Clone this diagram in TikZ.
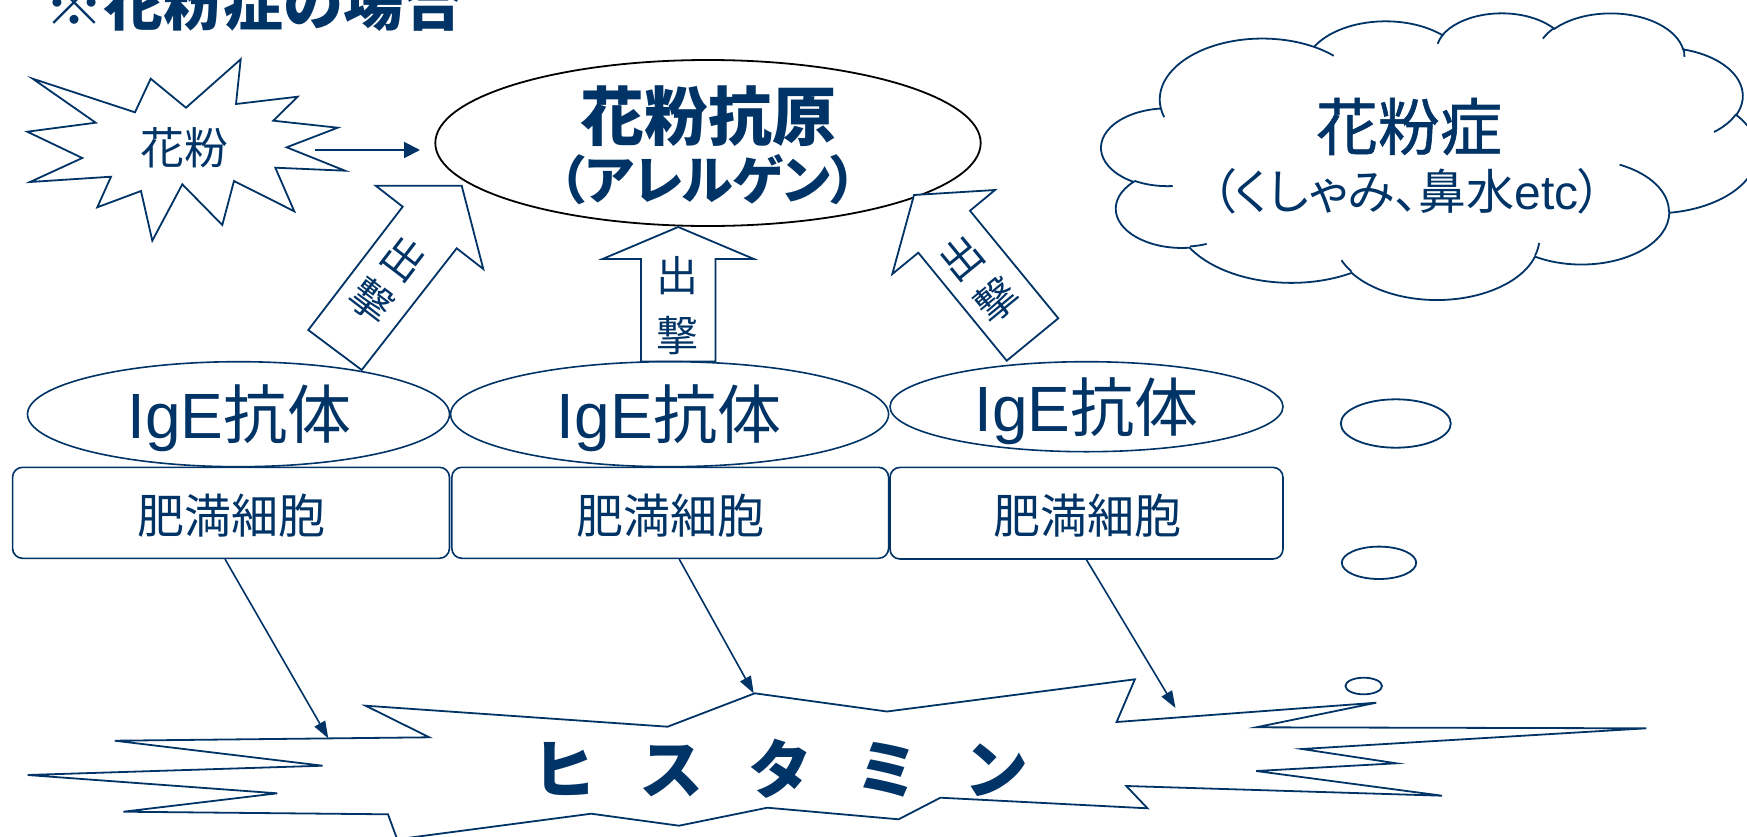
\documentclass[tikz,border=0pt]{standalone}
\usepackage{fontspec}
\setmainfont{Liberation Sans}
\newfontfamily\cjk{Noto Sans CJK JP}
\newfontfamily\cjkp[RawFeature=+palt]{Noto Sans CJK JP}
\newfontfamily\cjkm[FakeBold=1]{Noto Sans CJK JP}
\usetikzlibrary{shapes.geometric,arrows.meta}
\definecolor{navy}{RGB}{0,51,102}
\newcommand\myfs[1]{\fontsize{#1}{#1}\selectfont}
\begin{document}
\begin{tikzpicture}[x=0.5pt,y=-0.5pt,
  shp/.style={draw=navy, line width=0.9pt, fill=white, line join=miter},
  thin/.style={draw=navy, line width=0.8pt, fill=white},
  tail/.style={draw=navy, line width=0.9pt},
  txt/.style={text=navy, inner sep=0pt, outer sep=0pt},
  conn/.style={draw=navy, line width=0.8pt, -{Triangle[length=8.5pt,width=6pt]}},
  conntwo/.style={draw=navy, line width=1pt, -{Triangle[length=8pt,width=8pt]}}]
\clip (0,0) rectangle (1747,836);
\fill[white] (0,0) rectangle (1747,836);

% title
\node[txt, font=\cjk\bfseries\myfs{30pt}] (title) at (254,3) {※花粉症の場合};

% pollen star
\draw[shp] (32.7,78.7) -- (135,112.3) -- (150.7,78.7) -- (186,107.7) -- (240.7,59.3) -- (236,104)
  -- (297.7,96.7) -- (273.3,120.7) -- (337.7,127.7) -- (286.7,147.3) -- (345,170.7) -- (275.3,167.7)
  -- (294.3,211.3) -- (234,181) -- (222.3,225) -- (182.3,184.3) -- (152.3,240.7) -- (141,191)
  -- (97.3,207.3) -- (111,176.7) -- (30,182) -- (82.3,158) -- (27.3,131.7) -- (95.7,122.7) -- cycle;
\node[txt, font=\cjk\myfs{22pt}] (pollen) at (184.7,147.5) {花粉};
\coordinate (pa) at (315,150);
\coordinate (pb) at (420,150);
\draw[conntwo] (pa) -- (pb);

% antigen
\node[ellipse, draw=black, line width=0.9pt, fill=white, minimum width=272.7pt, minimum height=83pt, inner sep=0pt] (antigen) at (708,143) {};
\node[txt, font=\cjk\bfseries\myfs{32pt}] (ag1) at (708,116) {花粉抗原};
\node[txt, font=\cjkp\bfseries\myfs{26pt}] (ag2) at (708,179.5) {（アレルゲン）};

% block arrows
\draw[shp] (461.7,185.7) -- (483.3,269) -- (456.7,248.3) -- (361.7,370) -- (308.3,330) -- (402.7,206.7) -- (375.7,185.7) -- cycle;
\draw[shp] (678.2,227) -- (753.9,259) -- (715.5,259) -- (715.5,361.5) -- (640.9,361.5) -- (640.9,259) -- (602.5,259) -- cycle;
\draw[shp] (914,195) -- (995,190) -- (970,210.7) -- (1058.3,318.3) -- (1006.7,360.7) -- (918.3,252.7) -- (892.3,274) -- cycle;
\node[txt, rotate=-37.4, align=center, font=\cjk\fontsize{21pt}{26.4pt}\selectfont] (sh1) at (387.8,279.2) {出\\撃};
\node[txt, align=center, font=\cjk\fontsize{21pt}{30pt}\selectfont] (sh2) at (677.5,305.8) {出\\撃};
\node[txt, rotate=39.3, align=center, font=\cjk\fontsize{21pt}{27.2pt}\selectfont] (sh3) at (979.2,279.2) {出\\撃};

% IgE ellipses
\node[ellipse, thin, minimum width=211pt, minimum height=52.5pt, inner sep=0pt] (ige1) at (238.5,414.2) {};
\node[ellipse, thin, minimum width=219pt, minimum height=52.5pt, inner sep=0pt] (ige2) at (669.6,414.2) {};
\node[ellipse, thin, minimum width=196.5pt, minimum height=45pt, inner sep=0pt] (ige3) at (1086.5,406.7) {};
\node[txt, anchor=base, font=\myfs{32pt}] (i1t) at (239.5,438.3) {IgE{\cjk 抗体}};
\node[txt, anchor=base, font=\myfs{32pt}] (i2t) at (669,438.3) {IgE{\cjk 抗体}};
\node[txt, anchor=base, font=\myfs{32pt}] (i3t) at (1086.5,431.7) {IgE{\cjk 抗体}};

% mast cell boxes
\node[rectangle, thin, rounded corners=5pt, minimum width=218.45pt, minimum height=45.5pt, inner sep=0pt] (box1) at (231,512.8) {};
\node[rectangle, thin, rounded corners=5pt, minimum width=218.4pt, minimum height=45.5pt, inner sep=0pt] (box2) at (670.2,512.8) {};
\node[rectangle, thin, rounded corners=5pt, minimum width=196.5pt, minimum height=45.8pt, inner sep=0pt] (box3) at (1086.5,513.2) {};
\node[txt, font=\cjk\myfs{23.5pt}] (c1t) at (231,516) {肥満細胞};
\node[txt, font=\cjk\myfs{23.5pt}] (c2t) at (670,516) {肥満細胞};
\node[txt, font=\cjk\myfs{23.5pt}] (c3t) at (1087,516) {肥満細胞};

% cloud callout
\begin{scope}[shift={(1101.5,12.4)}, x=0.759pt, y=-0.3317pt]
\draw[shp] (39.00,143.70)
 arc[start angle=187.75, end angle=59.63, x radius=51.255pt, y radius=30.483pt]
 arc[start angle=152.03, end angle=45.45, x radius=40.477pt, y radius=24.105pt]
 arc[start angle=153.48, end angle=37.32, x radius=33.130pt, y radius=19.720pt]
 arc[start angle=139.71, end angle=10.21, x radius=36.865pt, y radius=21.876pt]
 arc[start angle=74.77, end angle=-23.21, x radius=40.477pt, y radius=24.125pt]
 arc[start angle=37.52, end angle=-81.86, x radius=51.422pt, y radius=30.583pt]
 arc[start angle=-0.46, end angle=-121.98, x radius=43.908pt, y radius=26.095pt]
 arc[start angle=-16.85, end angle=-146.24, x radius=51.248pt, y radius=30.566pt]
 arc[start angle=-58.99, end angle=-150.20, x radius=58.595pt, y radius=34.971pt]
 arc[start angle=276.69, end angle=136.88, x radius=33.092pt, y radius=19.630pt]
 arc[start angle=239.64, end angle=95.89, x radius=32.979pt, y radius=19.720pt]
 -- cycle;
\draw[tail] (46.93,261.77) arc[start angle=-85.55, end angle=-120.36, x radius=32.979pt, y radius=19.720pt]
 (69.28,348.99) arc[start angle=-68.24, end angle=-83.31, x radius=33.092pt, y radius=19.630pt]
 (164.78,390.90) arc[start angle=-146.24, end angle=-158.47, x radius=51.248pt, y radius=30.566pt]
 (288.27,347.51) arc[start angle=-4.74, end angle=-16.85, x radius=51.248pt, y radius=30.566pt]
 (341.29,229.54) arc[start angle=64.03, end angle=-0.46, x radius=43.908pt, y radius=26.095pt]
 (417.98,153.54) arc[start angle=-23.21, end angle=-49.64, x radius=40.477pt, y radius=24.125pt]
 (383.24,54.26) arc[start angle=10.21, end angle=-0.82, x radius=36.865pt, y radius=21.876pt]
 (290.78,39.52) arc[start angle=156.28, end angle=139.71, x radius=36.865pt, y radius=21.876pt]
 (221.41,47.20) arc[start angle=167.73, end angle=153.48, x radius=33.130pt, y radius=19.720pt]
 (140.00,51.92) arc[start angle=59.63, end angle=45.73, x radius=51.255pt, y radius=30.483pt]
 (41.27,157.89) arc[start angle=-163.19, end angle=-172.25, x radius=51.255pt, y radius=30.483pt];
\end{scope}
\node[txt, font=\cjkm\myfs{31pt}] (kfs) at (1409,126.5) {花粉症};
\node[txt, font=\myfs{24pt}] (sym) at (1407,191) {{\cjkp （くしゃみ、鼻水}etc{\cjkp ）}};
\node[ellipse, shp, minimum width=55pt, minimum height=24.2pt, inner sep=0pt] (bubA) at (1395.8,423.5) {};
\node[ellipse, shp, minimum width=37.2pt, minimum height=16.2pt, inner sep=0pt] (bubB) at (1379,562.8) {};
\node[ellipse, shp, minimum width=18.3pt, minimum height=8.3pt, inner sep=0pt] (bubC) at (1363.7,686) {};

% histamine burst
\draw[shp] (365.6,705.7) -- (667.6,726.7) -- (754.8,693.3) -- (887,711.5) -- (1134.9,679.3) -- (1116.6,722)
  -- (1376.3,702.7) -- (1256.2,727.3) -- (1646.3,728.3) -- (1302,749) -- (1396.3,763.3) -- (1256.2,771)
  -- (1442.1,795.7) -- (1126.3,786) -- (1147.5,808.3) -- (940.4,797.7) -- (898.6,819.3) -- (767.4,807.7)
  -- (679,825.7) -- (591.2,813.7) -- (397.2,839.3) -- (388,814.3) -- (123.4,811.7) -- (277.2,793.3)
  -- (27.6,775) -- (322.6,765.7) -- (114.8,740.7) -- (429.3,737.3) -- cycle;
\node[txt, font=\cjk\bfseries\myfs{32pt}] (hist) at (780,768.4) {\spaceskip=22pt\relax ヒ ス タ ミ ン};

% connectors
\coordinate (h1) at (328.3,738.3);
\coordinate (h2) at (753.7,693.3);
\coordinate (h3) at (1175.5,708);
\draw[conn] ([xshift=-3pt]box1.south) -- (h1);
\draw[conn] ([xshift=4.5pt]box2.south) -- (h2);
\draw[conn] (box3.south) -- (h3);
\end{tikzpicture}
\end{document}
